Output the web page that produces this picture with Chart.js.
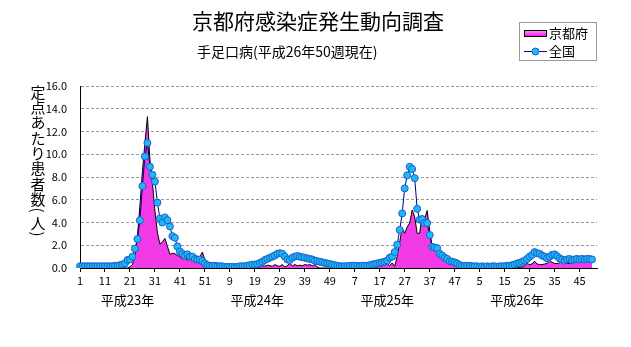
<!DOCTYPE html>
<html>
<head>
<meta charset="utf-8">
<script src="https://cdn.jsdelivr.net/npm/chart.js@4/dist/chart.umd.min.js"></script>
<style>
  html, body { margin: 0; padding: 0; background: #fff; }
  #chart { display: block; }
</style>
</head>
<body>
<canvas id="chart" width="631" height="347"></canvas>
<script>
const titleText = "京都府感染症発生動向調査";
const subtitleText = "手足口病(平成26年50週現在)";
const yTitleChars = ["定", "点", "あ", "た", "り", "患", "者", "数", "(", "人", ")"];
const yearNames = ["平成23年", "平成24年", "平成25年", "平成26年"];
const weeksPerYear = 52;
const yTicks = [0, 2, 4, 6, 8, 10, 12, 14, 16];

// 定点あたり患者数, weekly (week 1 .. 52)
const kyoto2011 = [0,0,0,0,0,0,0,0,0,0, 0,0,0,0,0,0,0,0,0,0,
  0.1,0.3,1.0,2.8,5.5,8.5,11.0,13.3,9.5,7.5, 5.0,3.1,2.1,2.3,2.6,1.9,1.2,1.3,1.25,1.1,
  1.0,0.8,0.9,0.7,0.85,1.0,0.85,1.0,1.0,1.4, 0.7,0.3];
const kyoto2012 = [0.1,0.05,0,0,0,0,0,0,0,0, 0,0,0,0,0,0,0,0,0,0.05,
  0.1,0.2,0.15,0.25,0.2,0.15,0.3,0.2,0.15,0.3, 0.1,0.2,0.4,0.2,0.3,0.2,0.25,0.2,0.3,0.25,
  0.3,0.2,0.3,0.1,0,0,0,0,0,0, 0,0];
const kyoto2013 = [0,0,0,0,0,0,0,0,0,0, 0,0,0,0.05,0.1,0.1,0.15,0.2,0.3,0.4,
  0.2,0.45,0.15,1.0,2.3,3.5,3.05,3.6,3.95,5.1, 4.5,3.05,3.05,4.65,4.3,5.05,3.3,1.9,1.6,1.45,
  1.25,1.1,1.0,0.85,0.75,0.6,0.5,0.4,0.25,0.15, 0.05,0];
const kyoto2014 = [0,0,0,0,0,0,0,0,0,0, 0,0,0,0,0,0,0,0,0,0,
  0.05,0.1,0.2,0.4,0.3,0.35,0.6,0.35,0.3,0.3, 0.35,0.4,0.7,0.5,0.4,0.4,0.45,0.6,0.45,0.4,
  0.4,0.45,0.7,0.55,0.5,0.5,0.55,0.7,0.65,0.6];

const national2011 = [0.15,0.15,0.15,0.15,0.15,0.15,0.15,0.15,0.15,0.15, 0.15,0.15,0.15,0.15,0.2,0.2,0.25,0.3,0.4,0.7,
  0.75,1.0,1.7,2.55,4.2,7.2,9.8,11.0,8.9,8.2, 7.6,5.75,4.35,4.0,4.45,4.2,3.65,2.8,2.65,1.9,
  1.45,1.25,1.1,1.2,1.0,1.0,0.8,0.75,0.75,0.6, 0.4,0.25];
const national2012 = [0.2,0.2,0.2,0.15,0.15,0.15,0.1,0.1,0.1,0.1, 0.1,0.1,0.15,0.15,0.15,0.2,0.25,0.3,0.3,0.35,
  0.45,0.55,0.7,0.8,0.9,1.0,1.1,1.25,1.3,1.25, 1.0,0.75,0.7,0.9,1.0,1.05,1.0,0.95,0.9,0.85,
  0.8,0.75,0.65,0.6,0.55,0.5,0.45,0.4,0.35,0.3, 0.25,0.2];
const national2013 = [0.15,0.15,0.15,0.15,0.2,0.2,0.2,0.2,0.15,0.2, 0.2,0.2,0.25,0.3,0.35,0.4,0.45,0.5,0.55,0.65,
  0.9,1.0,1.4,2.05,3.35,4.8,7.0,8.15,8.9,8.7, 7.9,5.2,4.25,4.3,3.95,3.95,2.9,1.85,1.8,1.75,
  1.25,1.1,0.9,0.8,0.6,0.55,0.5,0.4,0.25,0.2, 0.2,0.2];
const national2014 = [0.2,0.15,0.15,0.15,0.1,0.15,0.1,0.15,0.1,0.15, 0.15,0.1,0.15,0.15,0.15,0.2,0.2,0.25,0.3,0.4,
  0.45,0.55,0.65,0.8,1.0,1.15,1.4,1.3,1.25,1.1, 1.0,0.85,1.0,1.15,1.2,1.05,0.85,0.75,0.65,0.75,
  0.8,0.7,0.75,0.8,0.75,0.8,0.75,0.8,0.8,0.75];

const kyoto = [...kyoto2011, ...kyoto2012, ...kyoto2013, ...kyoto2014];
const national = [...national2011, ...national2012, ...national2013, ...national2014];

// week labels: four years of 52 weeks each
const weekLabels = [];
yearNames.forEach(() => {
  for (let w = 1; w <= weeksPerYear; w++) weekLabels.push(String(w));
});

const FONT = '"Noto Sans CJK JP", "Noto Sans", sans-serif';
const KYOTO_FILL = "#f23ae6";
const NAT_LINE = "#000080";
const NAT_POINT = "#22b6f6";
const NAT_POINT_EDGE = "#1463cc";

// titles, vertical y-axis title, year captions and the legend box
const decorations = {
  id: "decorations",
  afterDraw(chart) {
    const { ctx, scales: { x } } = chart;
    ctx.save();
    ctx.fillStyle = "#000";
    ctx.textBaseline = "middle";

    ctx.font = "21px " + FONT;
    ctx.textAlign = "center";
    ctx.fillText(titleText, 318, 21);

    ctx.font = "14px " + FONT;
    ctx.textAlign = "left";
    ctx.fillText(subtitleText, 197, 52);

    // year captions under week 20 of each year
    ctx.font = "13px " + FONT;
    ctx.textAlign = "center";
    yearNames.forEach((name, k) => {
      ctx.fillText(name, x.getPixelForValue(k * weeksPerYear + 19), 300);
    });

    // vertical axis title, brackets turned sideways
    ctx.font = "15px " + FONT;
    let ty = 92;
    yTitleChars.forEach((ch, k) => {
      if (ch === "(" || ch === ")") {
        ctx.save();
        ctx.translate(38, ty - 2);
        ctx.rotate(Math.PI / 2);
        ctx.fillText(ch, 0, 0);
        ctx.restore();
        ty += 11;
      } else {
        ctx.fillText(ch, 38, ty);
        ty += k < 7 ? 15.3 : 13;
      }
    });

    // legend
    const lx = 519, ly = 22, lw = 78, lh = 39;
    ctx.fillStyle = "#fff";
    ctx.fillRect(lx, ly, lw, lh);
    ctx.strokeStyle = "#999";
    ctx.lineWidth = 1;
    ctx.strokeRect(lx + 0.5, ly + 0.5, lw - 1, lh - 1);

    const grad = ctx.createLinearGradient(0, ly + 8, 0, ly + 15);
    grad.addColorStop(0, "#ff9ee8");
    grad.addColorStop(1, "#ff00ff");
    ctx.fillStyle = grad;
    ctx.fillRect(lx + 5, ly + 8, 23, 7);
    ctx.strokeStyle = "#000";
    ctx.strokeRect(lx + 5.5, ly + 8.5, 22, 6);

    ctx.strokeStyle = NAT_LINE;
    ctx.beginPath();
    ctx.moveTo(lx + 5, ly + 29.5);
    ctx.lineTo(lx + 28, ly + 29.5);
    ctx.stroke();
    ctx.beginPath();
    ctx.arc(lx + 16.5, ly + 29.5, 3.5, 0, Math.PI * 2);
    ctx.fillStyle = NAT_POINT;
    ctx.fill();
    ctx.strokeStyle = NAT_POINT_EDGE;
    ctx.stroke();

    ctx.fillStyle = "#000";
    ctx.font = "13px " + FONT;
    ctx.textAlign = "left";
    ctx.fillText("京都府", lx + 30, ly + 11.5);
    ctx.fillText("全国", lx + 30, ly + 29.5);
    ctx.restore();
  }
};

new Chart(document.getElementById("chart"), {
  type: "line",
  data: {
    labels: weekLabels,
    datasets: [
      {
        label: "全国",
        data: national,
        borderColor: NAT_LINE,
        borderWidth: 1,
        pointRadius: 3.5,
        pointBackgroundColor: NAT_POINT,
        pointBorderColor: NAT_POINT_EDGE,
        pointBorderWidth: 1,
        tension: 0,
        fill: false,
        order: 0
      },
      {
        label: "京都府",
        data: kyoto,
        borderColor: "#000",
        borderWidth: 1,
        backgroundColor: KYOTO_FILL,
        pointRadius: 0,
        tension: 0,
        fill: "origin",
        order: 1
      }
    ]
  },
  options: {
    responsive: false,
    animation: false,
    events: [],
    layout: { padding: { top: 86, right: 34, bottom: 55, left: 0 } },
    plugins: {
      legend: { display: false },
      tooltip: { enabled: false }
    },
    scales: {
      x: {
        offset: false,
        afterFit: (s) => { s.height = 24; },
        grid: { drawOnChartArea: false, drawTicks: true, tickLength: 4, color: "#000" },
        border: { color: "#000" },
        ticks: {
          autoSkip: false,
          maxRotation: 0,
          padding: 2,
          color: "#000",
          font: { family: FONT, size: 11 },
          callback: (v, i) => (i % 10 === 0 ? weekLabels[i] : null)
        }
      },
      y: {
        min: 0,
        max: 16,
        afterFit: (s) => { s.width = 80; },
        afterBuildTicks: (s) => { s.ticks = yTicks.map((v) => ({ value: v })); },
        grid: { color: "#9a9a9a", drawTicks: false },
        border: { color: "#000", dash: [3, 2] },
        ticks: {
          padding: 13,
          color: "#000",
          font: { family: FONT, size: 11 },
          callback: (v) => v.toFixed(1)
        }
      }
    }
  },
  plugins: [decorations]
});
</script>
</body>
</html>
